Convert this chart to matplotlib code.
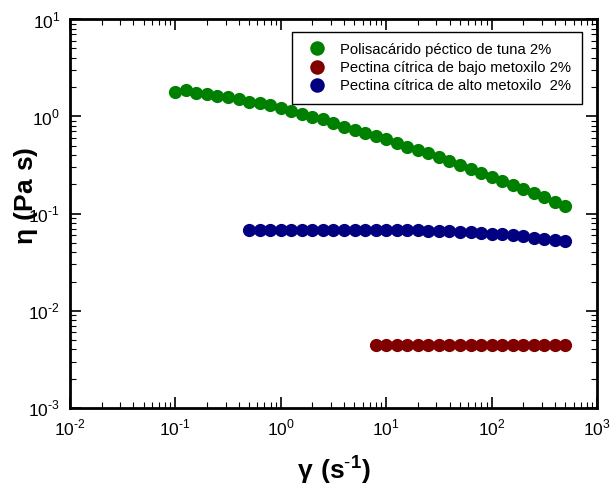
import numpy as np
import matplotlib
matplotlib.use("Agg")
import matplotlib.pyplot as plt
from matplotlib.ticker import FuncFormatter

plt.rcParams['font.family'] = ['Liberation Sans', 'DejaVu Sans']
plt.rcParams['mathtext.fontset'] = 'custom'
plt.rcParams['mathtext.rm'] = 'Liberation Sans'
plt.rcParams['mathtext.bf'] = 'Liberation Sans:bold'

# shear rate (s^-1), 10 points per decade
x_tuna = 10 ** (np.arange(-10, 28) / 10)
x_alto = 10 ** (np.arange(-3, 28) / 10)
x_bajo = 10 ** (np.arange(9, 28) / 10)

# viscosity (Pa s)
eta_tuna = [1.79, 1.86, 1.75, 1.69, 1.63, 1.59, 1.51, 1.41, 1.36, 1.30,
            1.21, 1.14, 1.07, 0.99, 0.93, 0.86, 0.78, 0.72, 0.68, 0.63,
            0.583, 0.535, 0.486, 0.450, 0.416, 0.378, 0.347, 0.318, 0.289, 0.263,
            0.239, 0.217, 0.198, 0.180, 0.164, 0.148, 0.133, 0.121]
eta_alto = [0.0680, 0.0678, 0.0677, 0.0677, 0.0677, 0.0677, 0.0677, 0.0677,
            0.0677, 0.0677, 0.0677, 0.0677, 0.0677, 0.0677, 0.0676, 0.0674,
            0.0671, 0.0666, 0.0661, 0.0655, 0.0650, 0.0640, 0.0630, 0.0620,
            0.0611, 0.0596, 0.0582, 0.0564, 0.0548, 0.0530, 0.0520]
eta_bajo = [0.00448, 0.00447, 0.00446, 0.00446, 0.00445, 0.00445, 0.00445,
            0.00445, 0.00445, 0.00445, 0.00445, 0.00445, 0.00445, 0.00444,
            0.00444, 0.00443, 0.00443, 0.00442, 0.00441]

labels = ["Polisacárido péctico de tuna 2%",
          "Pectina cítrica de bajo metoxilo 2%",
          "Pectina cítrica de alto metoxilo  2%"]


def pow10(v, pos):
    e = int(round(np.log10(v)))
    return r'$10^{\text{%d}}$' % e


fig = plt.figure(figsize=(6.13, 4.91), dpi=100)
ax = fig.add_axes([0.114, 0.169, 0.86, 0.792])

ax.plot(x_tuna, eta_tuna, 'o', color='#008000', ms=9.5, mec='none', label=labels[0])
ax.plot(x_bajo, eta_bajo, 'o', color='#800000', ms=9.5, mec='none', label=labels[1])
ax.plot(x_alto, eta_alto, 'o', color='#000080', ms=9.5, mec='none', label=labels[2])

ax.set_xscale('log')
ax.set_yscale('log')
ax.set_xlim(1e-2, 1e3)
ax.set_ylim(1e-3, 1e1)
ax.xaxis.set_major_formatter(FuncFormatter(pow10))
ax.yaxis.set_major_formatter(FuncFormatter(pow10))

for s in ax.spines.values():
    s.set_linewidth(2)
ax.tick_params(which='both', direction='in', top=True, right=True, labelsize=12.5)
ax.tick_params(which='major', length=8, width=1.2, pad=7)
ax.tick_params(which='minor', length=4, width=0.8)

ax.set_xlabel(r'$\mathbf{\gamma\ (s^{\text{-}1})}$', fontsize=19, labelpad=12)
ax.set_ylabel(r'$\mathbf{\eta\ (Pa\ s)}$', fontsize=19)
ax.yaxis.set_label_coords(-0.057, 0.545)

leg = ax.legend(loc='upper right', bbox_to_anchor=(0.985, 0.985), fontsize=10.6,
                fancybox=False, edgecolor='black', framealpha=1, markerscale=1.1,
                handletextpad=0.6, borderpad=0.7, labelspacing=0.3)
leg.get_frame().set_linewidth(1)

fig.savefig('out.png', dpi=100)
